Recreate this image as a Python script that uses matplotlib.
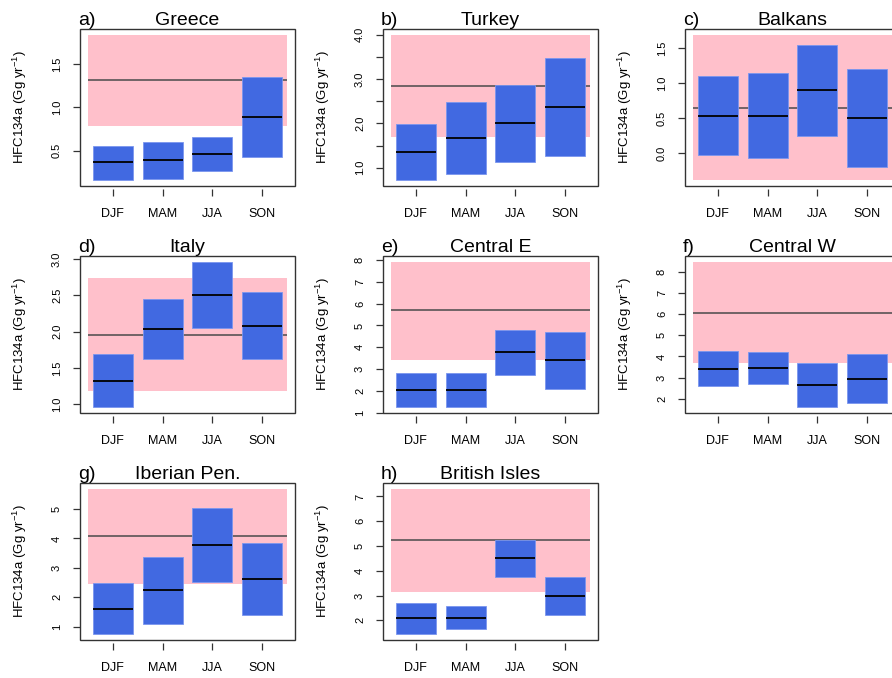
import matplotlib
matplotlib.use('Agg')
import matplotlib.pyplot as plt
import numpy as np
from matplotlib.ticker import MultipleLocator, FuncFormatter

plt.rcParams['font.family'] = ['Liberation Sans', 'DejaVu Sans']
plt.rcParams['mathtext.default'] = 'regular'

seasons = ['DJF', 'MAM', 'JJA', 'SON']
letters = ['a)', 'b)', 'c)', 'd)', 'e)', 'f)', 'g)', 'h)']
regions = ['Greece', 'Turkey', 'Balkans', 'Italy', 'Central E', 'Central W',
           'Iberian Pen.', 'British Isles']

# pink band (inventory range) and its central value
band_lo = [0.79, 1.70, -0.38, 1.185, 3.40, 3.67, 2.44, 3.14]
band_hi = [1.84, 4.00, 1.69, 2.745, 7.92, 8.48, 5.69, 7.31]
band_mid = [1.313, 2.847, 0.649, 1.963, 5.69, 6.06, 4.07, 5.24]

# seasonal boxes: lower, upper, median
box_lo = [
    [0.158, 0.177, 0.267, 0.43],
    [0.718, 0.863, 1.122, 1.275],
    [-0.024, -0.062, 0.25, -0.19],
    [0.963, 1.625, 2.056, 1.63],
    [1.26, 1.25, 2.72, 2.09],
    [2.59, 2.70, 1.60, 1.82],
    [0.74, 1.08, 2.52, 1.39],
    [1.44, 1.63, 3.74, 2.20],
]
box_hi = [
    [0.558, 0.605, 0.656, 1.352],
    [1.977, 2.473, 2.87, 3.466],
    [1.105, 1.153, 1.548, 1.206],
    [1.69, 2.454, 2.963, 2.542],
    [2.81, 2.81, 4.81, 4.69],
    [4.24, 4.22, 3.71, 4.11],
    [2.48, 3.38, 5.02, 3.84],
    [2.71, 2.58, 5.26, 3.74],
]
box_med = [
    [0.364, 0.391, 0.461, 0.889],
    [1.351, 1.679, 2.0, 2.374],
    [0.538, 0.538, 0.90, 0.505],
    [1.324, 2.037, 2.509, 2.083],
    [2.05, 2.05, 3.77, 3.42],
    [3.42, 3.47, 2.64, 2.95],
    [1.60, 2.23, 3.77, 2.61],
    [2.08, 2.11, 4.50, 2.97],
]

tick_step = [0.5, 0.5, 0.5, 0.5, 1, 1, 1, 1]
label_every = [1, 2, 1, 1, 1, 1, 1, 1]

fig = plt.figure(figsize=(8.92, 6.78), dpi=100)

W, H = 215 / 892, 157 / 678
lefts = [80 / 892, 383 / 892, 685 / 892]
bottoms = [1 - 186 / 678, 1 - 413 / 678, 1 - 640 / 678]

x = np.arange(1, 5)

for i, reg in enumerate(regions):
    row, col = divmod(i, 3)
    ax = fig.add_axes([lefts[col], bottoms[row], W, H])

    ax.bar(2.5, band_hi[i] - band_lo[i], width=4, bottom=band_lo[i],
           color='pink', zorder=1)
    ax.hlines(band_mid[i], 0.5, 4.5, color='#4a4a4a', lw=1.1, zorder=2)
    lo = np.array(box_lo[i])
    hi = np.array(box_hi[i])
    ax.bar(x, hi - lo, width=0.8, bottom=lo, color='royalblue',
           edgecolor='#7b96ee', lw=0.6, zorder=3)
    ax.hlines(box_med[i], x - 0.4, x + 0.4, color='black', lw=1.3, zorder=4)

    ymin = min(band_lo[i], lo.min())
    ymax = max(band_hi[i], hi.max())
    pad = 0.04 * (ymax - ymin)
    ax.set_ylim(ymin - pad, ymax + pad)
    ax.set_xlim(0.34, 4.66)

    step = tick_step[i]
    every = label_every[i]
    dec = 1 if step < 1 else 0

    def fmt(v, p, step=step, every=every, dec=dec):
        k = int(round(v / step))
        if k % every != 0:
            return ''
        return f'{v:.{dec}f}'

    ax.yaxis.set_major_locator(MultipleLocator(step))
    ax.yaxis.set_major_formatter(FuncFormatter(fmt))
    ax.set_xticks(x)
    ax.set_xticklabels(seasons)

    # box drawn by axes patch; bottom spine pushed out so ticks start below it
    for s in ax.spines.values():
        s.set_visible(False)
    ax.spines['bottom'].set_position(('outward', 2))
    ax.patch.set_edgecolor('#333333')
    ax.patch.set_linewidth(1.0)

    ax.tick_params(axis='x', length=5, width=0.9, color='#333333',
                   labelsize=9, pad=9)
    ax.tick_params(axis='y', length=5, width=0.9, color='#333333',
                   labelsize=8, pad=8)
    for lab in ax.get_yticklabels():
        lab.set_rotation(90)
        lab.set_va('center')

    ax.set_ylabel(r'HFC134a (Gg yr$^{-1}$)', fontsize=9.5)
    ax.yaxis.set_label_coords(-0.235, 0.5)

    ax.set_title(reg, fontsize=14, pad=3)
    ax.set_title(letters[i], fontsize=14, pad=3, loc='left', x=-0.01)

fig.savefig('out.png', dpi=100)
